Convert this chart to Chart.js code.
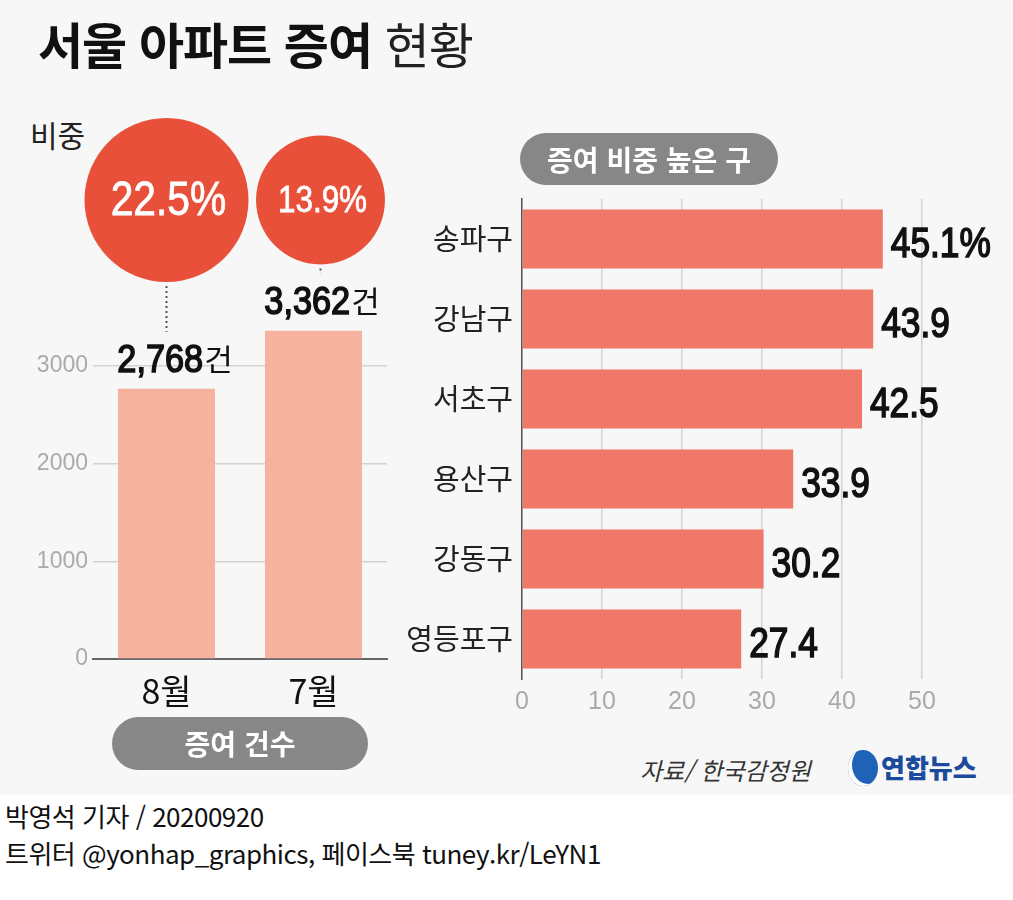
<!DOCTYPE html>
<html lang="ko">
<head>
  <meta charset="UTF-8">
  <title>서울 아파트 증여 현황</title>
  <script src="https://cdn.jsdelivr.net/npm/chart.js"></script>
  <style>
    body { margin: 0; width: 1013px; height: 900px; background: #fff; position: relative; overflow: hidden;
           font-family: "Noto Sans CJK KR", sans-serif; color: #111; }
    .abs { position: absolute; }
    #bg { left: 0; top: 0; width: 1013px; height: 795px; background: #f7f7f7; }
    #title { left: 38px; top: 14px; font-size: 49px; line-height: 1.2; white-space: nowrap; letter-spacing: -1px; }
    #title b { font-weight: 700; }
    #title span { font-weight: 400; color: #222; }
    .pill { background: #878787; color: #fff; font-weight: 700; text-align: center; border-radius: 27px; }
    #share { left: 30px; top: 112px; font-size: 30px; color: #222; }
    #source { left: 640px; top: 752px; font-size: 24px; color: #333; font-style: italic; }
    #logo { left: 848px; top: 748px; font-size: 26px; font-weight: 900; color: #1c4a9c; white-space: nowrap; }
    #logo i { display: inline-block; width: 30px; height: 36px; border-radius: 50%; background: #1e63b8;
              vertical-align: middle; margin-right: 3px; position: relative; top: -3px;
              box-shadow: inset 5px -3px 0 -1px #fff; }
    .foot { left: 5px; font-size: 26px; color: #111; white-space: nowrap; letter-spacing: -0.5px; }
  </style>
</head>
<body>
  <div id="bg" class="abs"></div>
  <div id="title" class="abs"><b>서울 아파트 증여</b> <span>현황</span></div>
  <div id="share" class="abs">비중</div>

  <div class="abs" style="left:0; top:0; width:400px; height:720px;">
    <canvas id="countChart"></canvas>
  </div>
  <div class="abs" style="left:400px; top:120px; width:613px; height:620px;">
    <canvas id="districtChart"></canvas>
  </div>

  <div class="abs pill" style="left:112px; top:717px; width:256px; height:53px; line-height:53px; font-size:28px;">증여 건수</div>
  <div class="abs pill" style="left:520px; top:133px; width:258px; height:52px; line-height:52px; font-size:28px;">증여 비중 높은 구</div>

  <div id="source" class="abs">자료/ 한국감정원</div>
  <div id="logo" class="abs"><i></i>연합뉴스</div>

  <div class="abs foot" style="top:797px;">박영석 기자 / 20200920</div>
  <div class="abs foot" style="top:834px;">트위터 @yonhap_graphics, 페이스북 tuney.kr/LeYN1</div>

  <script>
    // data read from the graphic
    const monthLabels = ['8월', '7월'];
    const giftCounts = [2768, 3362];
    const giftShares = [22.5, 13.9];
    const countTicks = [0, 1000, 2000, 3000];

    const districtLabels = ['송파구', '강남구', '서초구', '용산구', '강동구', '영등포구'];
    const districtShares = [45.1, 43.9, 42.5, 33.9, 30.2, 27.4];

    const NUM_FONT = '"Liberation Sans", Arial, sans-serif';
    const KR_FONT = '"Noto Sans CJK KR", sans-serif';

    // condensed-looking text: squeeze horizontally around the anchor
    function squeezeText(ctx, text, x, y, sx, stroke) {
      ctx.save();
      ctx.translate(x, y);
      ctx.scale(sx, 1);
      ctx.fillText(text, 0, 0);
      if (stroke) {
        ctx.strokeStyle = ctx.fillStyle;
        ctx.lineWidth = stroke;
        ctx.strokeText(text, 0, 0);
      }
      ctx.restore();
    }

    // circles, dotted leaders and "건" labels over the left bars
    const countLabels = {
      id: 'countLabels',
      afterDatasetsDraw(chart) {
        const ctx = chart.ctx;
        const bars = chart.getDatasetMeta(0).data;
        ctx.save();
        bars.forEach((bar, i) => {
          const r = 82 * Math.sqrt(giftShares[i] / giftShares[0]);
          const cx = bar.x + (i ? 7 : 0);
          const cy = 200;
          ctx.fillStyle = '#e9503a';
          ctx.beginPath();
          ctx.arc(cx, cy, r, 0, Math.PI * 2);
          ctx.fill();

          ctx.fillStyle = '#fff';
          ctx.textAlign = 'center';
          ctx.textBaseline = 'middle';
          ctx.font = (i ? 37 : 48) + 'px ' + NUM_FONT;
          squeezeText(ctx, giftShares[i].toFixed(1) + '%', cx + 2, cy + 2, 0.85, 0.8);

          // value label
          const num = giftCounts[i].toLocaleString('en-US');
          const baseY = bar.y - 17;
          const sx = 0.88;
          ctx.font = '39px ' + NUM_FONT;
          const w1 = ctx.measureText(num).width * sx;
          ctx.font = '31px ' + KR_FONT;
          const w2 = ctx.measureText('건').width;
          const x0 = bar.x + 8 - (w1 + w2) / 2;
          ctx.textAlign = 'left';
          ctx.textBaseline = 'alphabetic';
          ctx.fillStyle = '#111';
          ctx.font = '39px ' + NUM_FONT;
          squeezeText(ctx, num, x0, baseY, sx, 1.6);
          ctx.font = '31px ' + KR_FONT;
          ctx.fillText('건', x0 + w1 + 1, baseY - 1);

          // dotted leader
          ctx.strokeStyle = '#555';
          ctx.lineWidth = 2;
          ctx.setLineDash([2, 3]);
          ctx.beginPath();
          ctx.moveTo(cx, cy + r + 4);
          ctx.lineTo(cx, baseY - 40);
          ctx.stroke();
          ctx.setLineDash([]);
        });
        ctx.restore();
      }
    };

    new Chart(document.getElementById('countChart'), {
      type: 'bar',
      data: {
        labels: monthLabels,
        datasets: [{
          data: giftCounts,
          backgroundColor: '#f7b19f',
          barPercentage: 0.66,
          categoryPercentage: 1
        }]
      },
      options: {
        responsive: true,
        maintainAspectRatio: false,
        animation: false,
        layout: { padding: { top: 327, right: 13, left: 0, bottom: 0 } },
        plugins: { legend: { display: false }, tooltip: { enabled: false } },
        scales: {
          x: {
            grid: { display: false },
            border: { color: '#666', width: 2 },
            ticks: { color: '#111', padding: 4, font: { family: KR_FONT, size: 34 } },
            afterFit(axis) { axis.height = 61; }
          },
          y: {
            min: 0,
            max: 3400,
            afterBuildTicks(axis) { axis.ticks = countTicks.map(v => ({ value: v })); },
            grid: { color: '#d2d2d2', lineWidth: 1.5, drawTicks: false },
            border: { display: false },
            ticks: { color: '#aaa', padding: 5, font: { family: NUM_FONT, size: 23 },
                     callback: v => String(v) },
            afterFit(axis) { axis.width = 93; }
          }
        }
      },
      plugins: [countLabels]
    });

    // value labels at bar ends
    const districtValueLabels = {
      id: 'districtValueLabels',
      afterDatasetsDraw(chart) {
        const ctx = chart.ctx;
        const bars = chart.getDatasetMeta(0).data;
        ctx.save();
        ctx.fillStyle = '#111';
        ctx.font = '42px ' + NUM_FONT;
        ctx.textAlign = 'left';
        ctx.textBaseline = 'middle';
        bars.forEach((bar, i) => {
          const txt = districtShares[i].toFixed(1) + (i === 0 ? '%' : '');
          squeezeText(ctx, txt, bar.x + 8, bar.y + 6, 0.84, 1.6);
        });
        ctx.restore();
      }
    };

    new Chart(document.getElementById('districtChart'), {
      type: 'bar',
      data: {
        labels: districtLabels,
        datasets: [{
          data: districtShares,
          backgroundColor: '#f07868',
          barPercentage: 0.74,
          categoryPercentage: 1
        }]
      },
      options: {
        indexAxis: 'y',
        responsive: true,
        maintainAspectRatio: false,
        animation: false,
        layout: { padding: { top: 79, right: 91, left: 0, bottom: 0 } },
        plugins: { legend: { display: false }, tooltip: { enabled: false } },
        scales: {
          x: {
            min: 0,
            max: 50,
            ticks: { stepSize: 10, color: '#aaa', padding: 8, font: { family: NUM_FONT, size: 25 } },
            grid: { color: '#d2d2d2', lineWidth: 1.5, drawTicks: false },
            border: { display: false },
            afterFit(axis) { axis.height = 61; }
          },
          y: {
            grid: { display: false },
            border: { color: '#555', width: 1.5 },
            ticks: { color: '#222', padding: 1, font: { family: KR_FONT, size: 29 } },
            afterFit(axis) { axis.width = 122; }
          }
        }
      },
      plugins: [districtValueLabels]
    });
  </script>
</body>
</html>
